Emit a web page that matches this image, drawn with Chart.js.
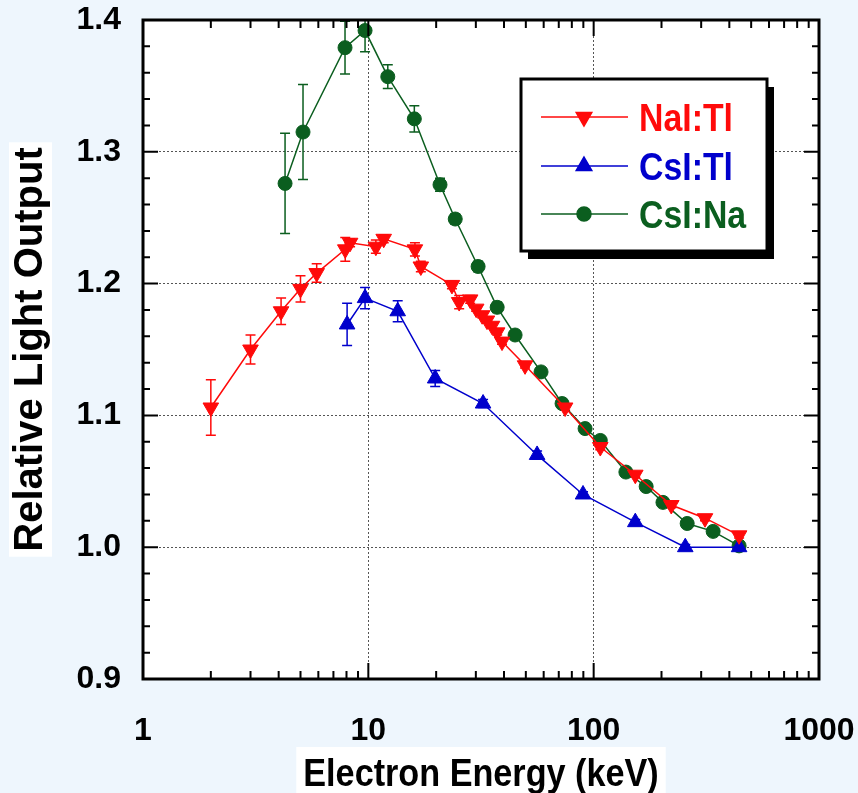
<!DOCTYPE html>
<html>
<head>
<meta charset="utf-8">
<script src="https://cdn.jsdelivr.net/npm/chart.js@4.4.1/dist/chart.umd.min.js"></script>
<style>
  html, body { margin: 0; padding: 0; background: #eef6fd; }
  #wrap { width: 858px; height: 793px; }
</style>
</head>
<body>
<div id="wrap"><canvas id="chart" width="858" height="793"></canvas></div>
<script>
// values (energy in keV, light output relative to 662 keV)
const naiEnergy = [2.0, 3.0, 4.1, 5.0, 5.9, 7.9, 8.3, 10.8, 11.7, 16.1, 17.1, 23.5, 25.3, 28.3, 30.1, 32.0, 33.6, 35.4, 37.3, 39.2, 49.6, 74.7, 107, 153, 221, 312, 442];
const naiLight  = [1.106, 1.150, 1.179, 1.196, 1.208, 1.226, 1.231, 1.228, 1.234, 1.226, 1.213, 1.199, 1.186, 1.188, 1.181, 1.176, 1.172, 1.168, 1.163, 1.156, 1.138, 1.106, 1.076, 1.055, 1.032, 1.022, 1.009];
const naiError  = [0.021, 0.011, 0.010, 0.010, 0.007, 0.009, 0.003, 0.005, 0.003, 0.005, 0.004, 0.003, 0.005, 0.003, 0.002, 0.002, 0.002, 0.002, 0.002, 0.002, 0.002, 0.002, 0.002, 0.002, 0.002, 0.002, 0.002];

const cstlEnergy = [8.05, 9.67, 13.5, 19.8, 32.3, 56.1, 89.7, 153, 255, 442];
const cstlLight  = [1.169, 1.189, 1.179, 1.128, 1.109, 1.070, 1.040, 1.019, 1.000, 1.000];
const cstlError  = [0.016, 0.008, 0.008, 0.006, 0.003, 0.003, 0.002, 0.002, 0.002, 0.002];

const csnaEnergy = [4.27, 5.13, 7.88, 9.67, 12.2, 16.0, 20.8, 24.3, 30.7, 37.3, 44.8, 58.4, 72.4, 91.6, 107, 139, 171, 203, 260, 339, 442];
const csnaLight  = [1.276, 1.315, 1.379, 1.392, 1.357, 1.325, 1.275, 1.249, 1.213, 1.182, 1.161, 1.133, 1.109, 1.090, 1.081, 1.057, 1.046, 1.034, 1.018, 1.012, 1.001];
const csnaError  = [0.038, 0.036, 0.020, 0.016, 0.009, 0.010, 0.005, 0.004, 0.004, 0.004, 0.003, 0.003, 0.003, 0.002, 0.002, 0.002, 0.002, 0.002, 0.002, 0.002, 0.002];

const xTickValues = [1, 10, 100, 1000];
const yTickValues = [0.9, 1.0, 1.1, 1.2, 1.3, 1.4];
const xTitle = 'Electron Energy (keV)';
const yTitle = 'Relative Light Output';

const RED = '#ff0a0a';
const BLUE = '#0000cc';
const GREEN = '#0b5e1f';
const FONT = "'Liberation Sans', Arial, sans-serif";

function points(xs, ys) {
    return xs.map((x, i) => ({ x: x, y: ys[i] }));
}

// draw text squeezed horizontally, the figure uses a condensed face
function narrowText(ctx, text, x, y, size, squeeze, align) {
    ctx.save();
    ctx.font = 'bold ' + size + 'px ' + FONT;
    ctx.textBaseline = 'alphabetic';
    ctx.textAlign = 'left';
    const w = ctx.measureText(text).width * squeeze;
    const left = align === 'center' ? x - w / 2 : x;
    ctx.translate(left, y);
    ctx.scale(squeeze, 1);
    ctx.fillText(text, 0, 0);
    ctx.restore();
    return w;
}

const series = [
    { label: 'NaI:Tl', x: naiEnergy, y: naiLight, err: naiError, color: RED, style: 'triangle', rot: 180, r: 9 },
    { label: 'CsI:Tl', x: cstlEnergy, y: cstlLight, err: cstlError, color: BLUE, style: 'triangle', rot: 0, r: 9 },
    { label: 'CsI:Na', x: csnaEnergy, y: csnaLight, err: csnaError, color: GREEN, style: 'circle', rot: 0, r: 7 }
];

// white plot area, white boxes behind the axis titles, x title
const backdrop = {
    id: 'backdrop',
    beforeDraw(chart) {
        const { ctx, chartArea: a } = chart;
        ctx.save();
        ctx.fillStyle = '#fff';
        ctx.fillRect(a.left, a.top, a.right - a.left, a.bottom - a.top);

        const cx = (a.left + a.right) / 2;
        ctx.font = 'bold 38px ' + FONT;
        const xw = ctx.measureText(xTitle).width * 0.9 + 14;
        ctx.fillRect(cx - xw / 2, 747, xw, 46);

        const yt = chart.options.scales.y.title;
        ctx.font = 'bold ' + yt.font.size + 'px ' + FONT;
        const yw = ctx.measureText(yTitle).width + 10;
        const cy = (a.top + a.bottom) / 2;
        ctx.fillRect(9, cy - yw / 2, 43, yw);

        ctx.fillStyle = '#000';
        narrowText(ctx, xTitle, cx, 786, 38, 0.9, 'center');
        ctx.restore();
    }
};

// vertical error bars with caps
const errorBars = {
    id: 'errorBars',
    beforeDatasetsDraw(chart) {
        const { ctx, chartArea: a, scales: { y } } = chart;
        ctx.save();
        ctx.beginPath();
        ctx.rect(a.left, a.top, a.right - a.left, a.bottom - a.top);
        ctx.clip();
        chart.data.datasets.forEach((ds, i) => {
            const meta = chart.getDatasetMeta(i);
            ctx.strokeStyle = ds.borderColor;
            ctx.lineWidth = 1.5;
            meta.data.forEach((pt, j) => {
                const v = ds.data[j].y;
                const e = ds.errors[j];
                const top = y.getPixelForValue(v + e);
                const bot = y.getPixelForValue(v - e);
                ctx.beginPath();
                ctx.moveTo(pt.x, top); ctx.lineTo(pt.x, bot);
                ctx.moveTo(pt.x - 5, top); ctx.lineTo(pt.x + 5, top);
                ctx.moveTo(pt.x - 5, bot); ctx.lineTo(pt.x + 5, bot);
                ctx.stroke();
            });
        });
        ctx.restore();
    }
};

// frame with inward ticks on all four sides, then the boxed legend
const frameAndLegend = {
    id: 'frameAndLegend',
    afterDraw(chart) {
        const { ctx, chartArea: a, scales: { x, y } } = chart;
        ctx.save();
        ctx.strokeStyle = '#000';
        ctx.lineWidth = 2;
        ctx.beginPath();
        for (let d = 1; d < 1000; d *= 10) {
            for (let m = 1; m <= 9; m++) {
                const v = d * m;
                if (v === 1) continue;
                const px = x.getPixelForValue(v);
                const len = m === 1 ? 16 : 8;
                ctx.moveTo(px, a.bottom); ctx.lineTo(px, a.bottom - len);
                ctx.moveTo(px, a.top); ctx.lineTo(px, a.top + len);
            }
        }
        for (let i = 1; i < 25; i++) {
            const py = y.getPixelForValue(0.9 + i * 0.02);
            const len = i % 5 === 0 ? 15 : 7;
            ctx.moveTo(a.left, py); ctx.lineTo(a.left + len, py);
            ctx.moveTo(a.right, py); ctx.lineTo(a.right - len, py);
        }
        ctx.stroke();
        ctx.lineWidth = 3;
        ctx.strokeRect(a.left, a.top, a.right - a.left, a.bottom - a.top);

        // legend box with drop shadow
        const bx = 521, by = 79, bw = 246, bh = 172;
        ctx.fillStyle = '#000';
        ctx.fillRect(bx + 7, by + 8, bw, bh);
        ctx.fillStyle = '#fff';
        ctx.fillRect(bx, by, bw, bh);
        ctx.lineWidth = 3;
        ctx.strokeRect(bx, by, bw, bh);

        const rows = [117, 166, 214];
        chart.data.datasets.forEach((ds, i) => {
            const ry = rows[i];
            ctx.strokeStyle = ds.borderColor;
            ctx.fillStyle = ds.borderColor;
            ctx.lineWidth = 1.5;
            ctx.beginPath();
            ctx.moveTo(541, ry); ctx.lineTo(628, ry);
            ctx.stroke();
            Chart.helpers.drawPoint(ctx, {
                pointStyle: ds.pointStyle,
                radius: ds.pointRadius,
                rotation: ds.pointRotation,
                borderWidth: 1
            }, 584, ry);
            narrowText(ctx, ds.label, 639, ry + 14, 38, 0.89, 'left');
        });
        ctx.restore();
    }
};

new Chart(document.getElementById('chart'), {
    type: 'line',
    data: {
        datasets: series.map(s => ({
            label: s.label,
            data: points(s.x, s.y),
            errors: s.err,
            borderColor: s.color,
            backgroundColor: s.color,
            borderWidth: 1.5,
            pointStyle: s.style,
            pointRotation: s.rot,
            pointRadius: s.r,
            pointBorderWidth: 1,
            tension: 0,
            fill: false
        }))
    },
    options: {
        responsive: false,
        animation: false,
        devicePixelRatio: 1,
        layout: { padding: { left: 0, top: 20, right: 39, bottom: 0 } },
        plugins: { legend: { display: false }, tooltip: { enabled: false } },
        scales: {
            x: {
                type: 'logarithmic',
                min: 1,
                max: 1000,
                afterBuildTicks: s => { s.ticks = xTickValues.map(v => ({ value: v })); },
                afterFit: s => { s.height = 114; s.paddingLeft = 0; s.paddingRight = 0; },
                ticks: {
                    autoSkip: false,
                    maxRotation: 0,
                    padding: 33,
                    color: '#000',
                    font: { family: FONT, size: 32, weight: 'bold' },
                    callback: v => String(v)
                },
                grid: {
                    drawTicks: false,
                    color: ctx => (ctx.tick && (ctx.tick.value === 10 || ctx.tick.value === 100)) ? '#555' : 'rgba(0,0,0,0)',
                    lineWidth: 1
                },
                border: { display: false, dash: [2, 2] }
            },
            y: {
                min: 0.9,
                max: 1.4,
                afterBuildTicks: s => { s.ticks = yTickValues.map(v => ({ value: v })); },
                afterFit: s => { s.width = 143; s.paddingTop = 0; s.paddingBottom = 0; },
                ticks: {
                    padding: 22,
                    color: '#000',
                    font: { family: FONT, size: 32, weight: 'bold' },
                    callback: v => Number(v).toFixed(1)
                },
                grid: {
                    drawTicks: false,
                    color: ctx => (ctx.tick && ctx.tick.value > 0.95 && ctx.tick.value < 1.35) ? '#555' : 'rgba(0,0,0,0)',
                    lineWidth: 1
                },
                border: { display: false, dash: [2, 2] },
                title: {
                    display: true,
                    text: yTitle,
                    color: '#000',
                    font: { family: FONT, size: 40, weight: 'bold' },
                    padding: { top: 7, bottom: 0 }
                }
            }
        }
    },
    plugins: [backdrop, errorBars, frameAndLegend]
});
</script>
</body>
</html>
